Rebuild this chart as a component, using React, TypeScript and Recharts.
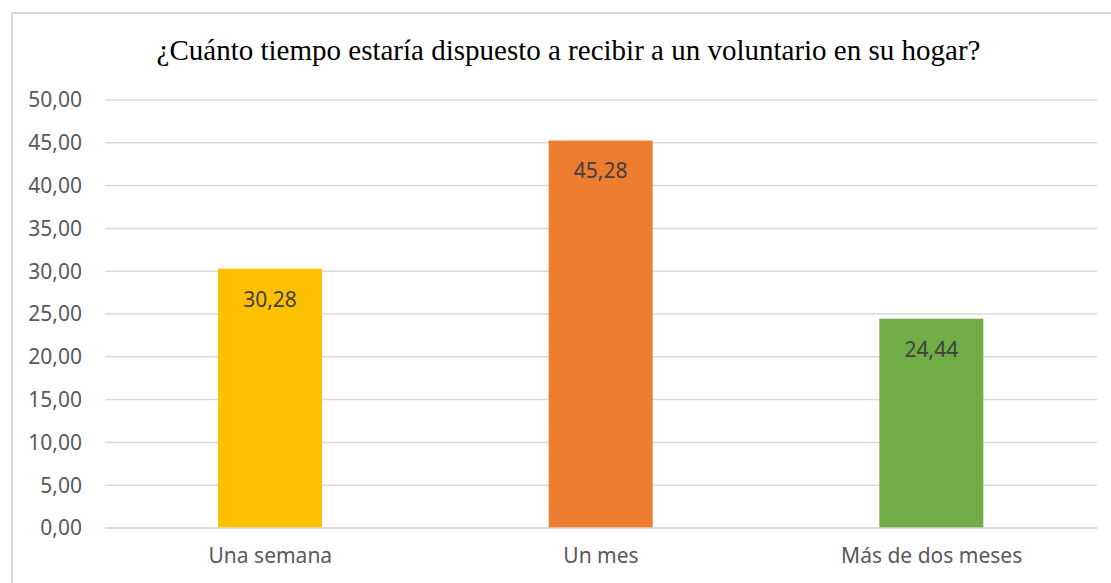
import { BarChart, Bar, XAxis, YAxis, CartesianGrid, Cell, LabelList } from "recharts";

const categories = ["Una semana", "Un mes", "Más de dos meses"];
const values = [30.28, 45.28, 24.44];
const barColors = ["#FFC000", "#ED7D31", "#70AD47"];
const yTicks = [0, 5, 10, 15, 20, 25, 30, 35, 40, 45, 50];

const title = "¿Cuánto tiempo estaría dispuesto a recibir a un voluntario en su hogar?";

const data = categories.map((name, i) => ({ name, value: values[i] }));

const fmt = (v: number) => v.toFixed(2).replace(".", ",");

const tickFont = { fontFamily: "'Noto Sans', sans-serif", fontSize: 21, fill: "#595959" };

export default function App() {
  return (
    <div style={{ position: "absolute", left: 0, top: 0, width: 1111, height: 583, background: "#fff", overflow: "hidden" }}>
      <div
        style={{
          position: "absolute",
          left: 11,
          top: 12,
          width: 1120,
          height: 620,
          border: "2px solid #d9d9d9",
          boxSizing: "border-box",
        }}
      />
      <div
        style={{
          position: "absolute",
          left: 0,
          top: 31,
          width: 1137,
          textAlign: "center",
          fontFamily: "'Liberation Serif', 'Times New Roman', serif",
          fontSize: 29,
          color: "#000",
          lineHeight: "38px",
        }}
      >
        {title}
      </div>
      <div style={{ position: "absolute", left: 0, top: 0 }}>
        <BarChart
          width={1111}
          height={583}
          data={data}
          margin={{ top: 100, right: 14, bottom: 25, left: 0 }}
        >
          <CartesianGrid vertical={false} stroke="#d9d9d9" strokeWidth={1.5} />
          <XAxis
            dataKey="name"
            height={30}
            tickLine={false}
            axisLine={{ stroke: "#d9d9d9", strokeWidth: 1.5 }}
            tickMargin={14}
            tick={tickFont}
          />
          <YAxis
            width={105}
            domain={[0, 50]}
            ticks={yTicks}
            tickFormatter={fmt}
            axisLine={false}
            tickLine={false}
            tickMargin={17}
            tick={tickFont}
          />
          <Bar dataKey="value" barSize={104} isAnimationActive={false}>
            {data.map((d, i) => (
              <Cell key={d.name} fill={barColors[i]} />
            ))}
            <LabelList
              dataKey="value"
              position="insideTop"
              offset={23}
              formatter={(v: any) => fmt(Number(v))}
              style={{ fontFamily: "'Noto Sans', sans-serif", fontSize: 21, fill: "#404040" }}
            />
          </Bar>
        </BarChart>
      </div>
    </div>
  );
}
